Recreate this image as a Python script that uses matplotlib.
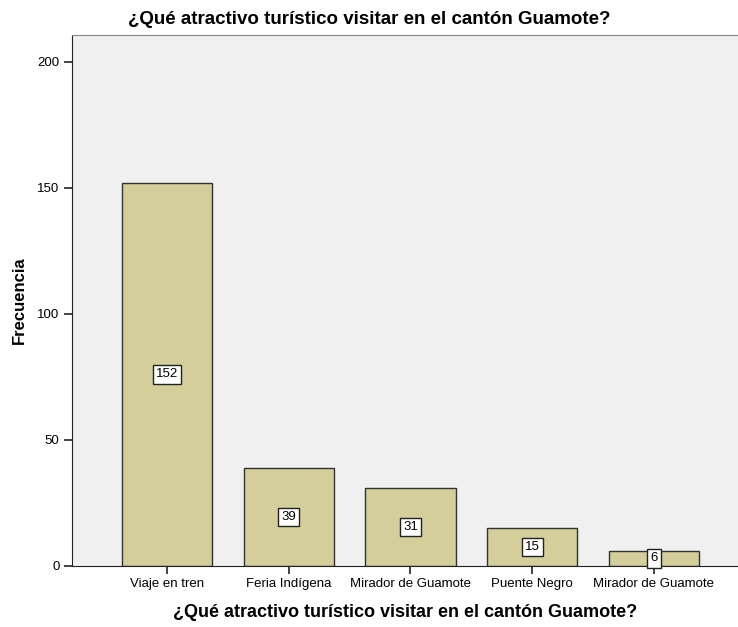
import matplotlib.pyplot as plt

categorias = ['Viaje en tren', 'Feria Indígena', 'Mirador de Guamote', 'Puente Negro', 'Mirador de Guamote']
frecuencias = [152, 39, 31, 15, 6]
yticks = [0, 50, 100, 150, 200]

plt.rcParams['font.family'] = ['Liberation Sans', 'DejaVu Sans']

fig = plt.figure(figsize=(7.38, 6.27), dpi=100)
ax = fig.add_axes([0.0976, 0.0973, 0.9024, 0.8467])
ax.set_facecolor('#f0f0f0')

x = list(range(len(categorias)))
ax.bar(x, frecuencias, width=0.74, color='#d3ce9a', edgecolor='#333333', linewidth=1.0, zorder=2)

# etiquetas de valor en el centro de cada barra
for xi, v in zip(x, frecuencias):
    ax.text(xi, v / 2, str(v), ha='center', va='center', fontsize=9.5, zorder=3,
            bbox=dict(boxstyle='square,pad=0.25', facecolor='white', edgecolor='#222222', linewidth=1.0))

ax.set_xlim(-0.78, 4.69)
ax.set_ylim(0, 210.5)
ax.set_xticks(x)
ax.set_xticklabels(categorias, fontsize=9.5)
ax.set_yticks(yticks)
ax.set_yticklabels([str(t) for t in yticks], fontsize=9.5)
ax.tick_params(axis='both', direction='out', length=6, width=1.2, color='#222222', pad=3)

ax.spines['right'].set_visible(False)
ax.spines['top'].set_color('#888888')
ax.spines['left'].set_color('#222222')
ax.spines['bottom'].set_color('#222222')

fig.suptitle('¿Qué atractivo turístico visitar en el cantón Guamote?', x=0.5, y=0.983,
             fontsize=13.5, fontweight='bold')
ax.set_xlabel('¿Qué atractivo turístico visitar en el cantón Guamote?', fontsize=13, fontweight='bold', labelpad=10)
ax.set_ylabel('Frecuencia', fontsize=12, fontweight='bold')
ax.yaxis.set_label_coords(-0.068, 0.5)

fig.savefig('out.png', dpi=100)
